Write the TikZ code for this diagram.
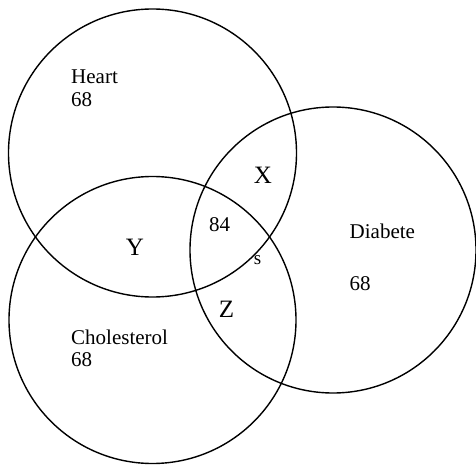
\documentclass[tikz,border=0pt]{standalone}
\usepackage{fontspec}
\setmainfont{Liberation Serif}
\begin{document}
\begin{tikzpicture}[x=1pt,y=-1pt,
  setcircle/.style={circle,draw,line width=1.4pt,inner sep=0pt},
  lbl/.style={inner sep=0pt,font=\fontsize{21}{21}\selectfont},
  big/.style={inner sep=0pt,font=\fontsize{25}{25}\selectfont,anchor=base}]
\useasboundingbox (0,0) rectangle (476,465);
\node[setcircle,minimum size=288pt] (heart) at (152.5,153) {};
\node[setcircle,minimum size=287pt] (chol) at (152.5,320) {};
\node[setcircle,minimum size=286pt] (diab) at (333,250) {};
\node[lbl,anchor=base west] (theart) at (71,83.5) {Heart};
\node[lbl,anchor=base west] (nheart) at (71,106.5) {68};
\node[lbl,anchor=base west] (tchol) at (71,344) {Cholesterol};
\node[lbl,anchor=base west] (nchol) at (71,366.5) {68};
\node[lbl,anchor=base west] (tdiab) at (349.5,238) {Diabete};
\node[lbl,anchor=base west] (ndiab) at (349.5,290) {68};
\node[lbl,anchor=base] (all) at (219.5,231) {84};
\node[inner sep=0pt,font=\fontsize{19}{19}\selectfont,anchor=base] (s) at (257.5,264) {s};
\node[big] (x) at (263,183) {X};
\node[big] (y) at (135,255) {Y};
\node[big] (z) at (226.5,317) {Z};
\end{tikzpicture}
\end{document}
